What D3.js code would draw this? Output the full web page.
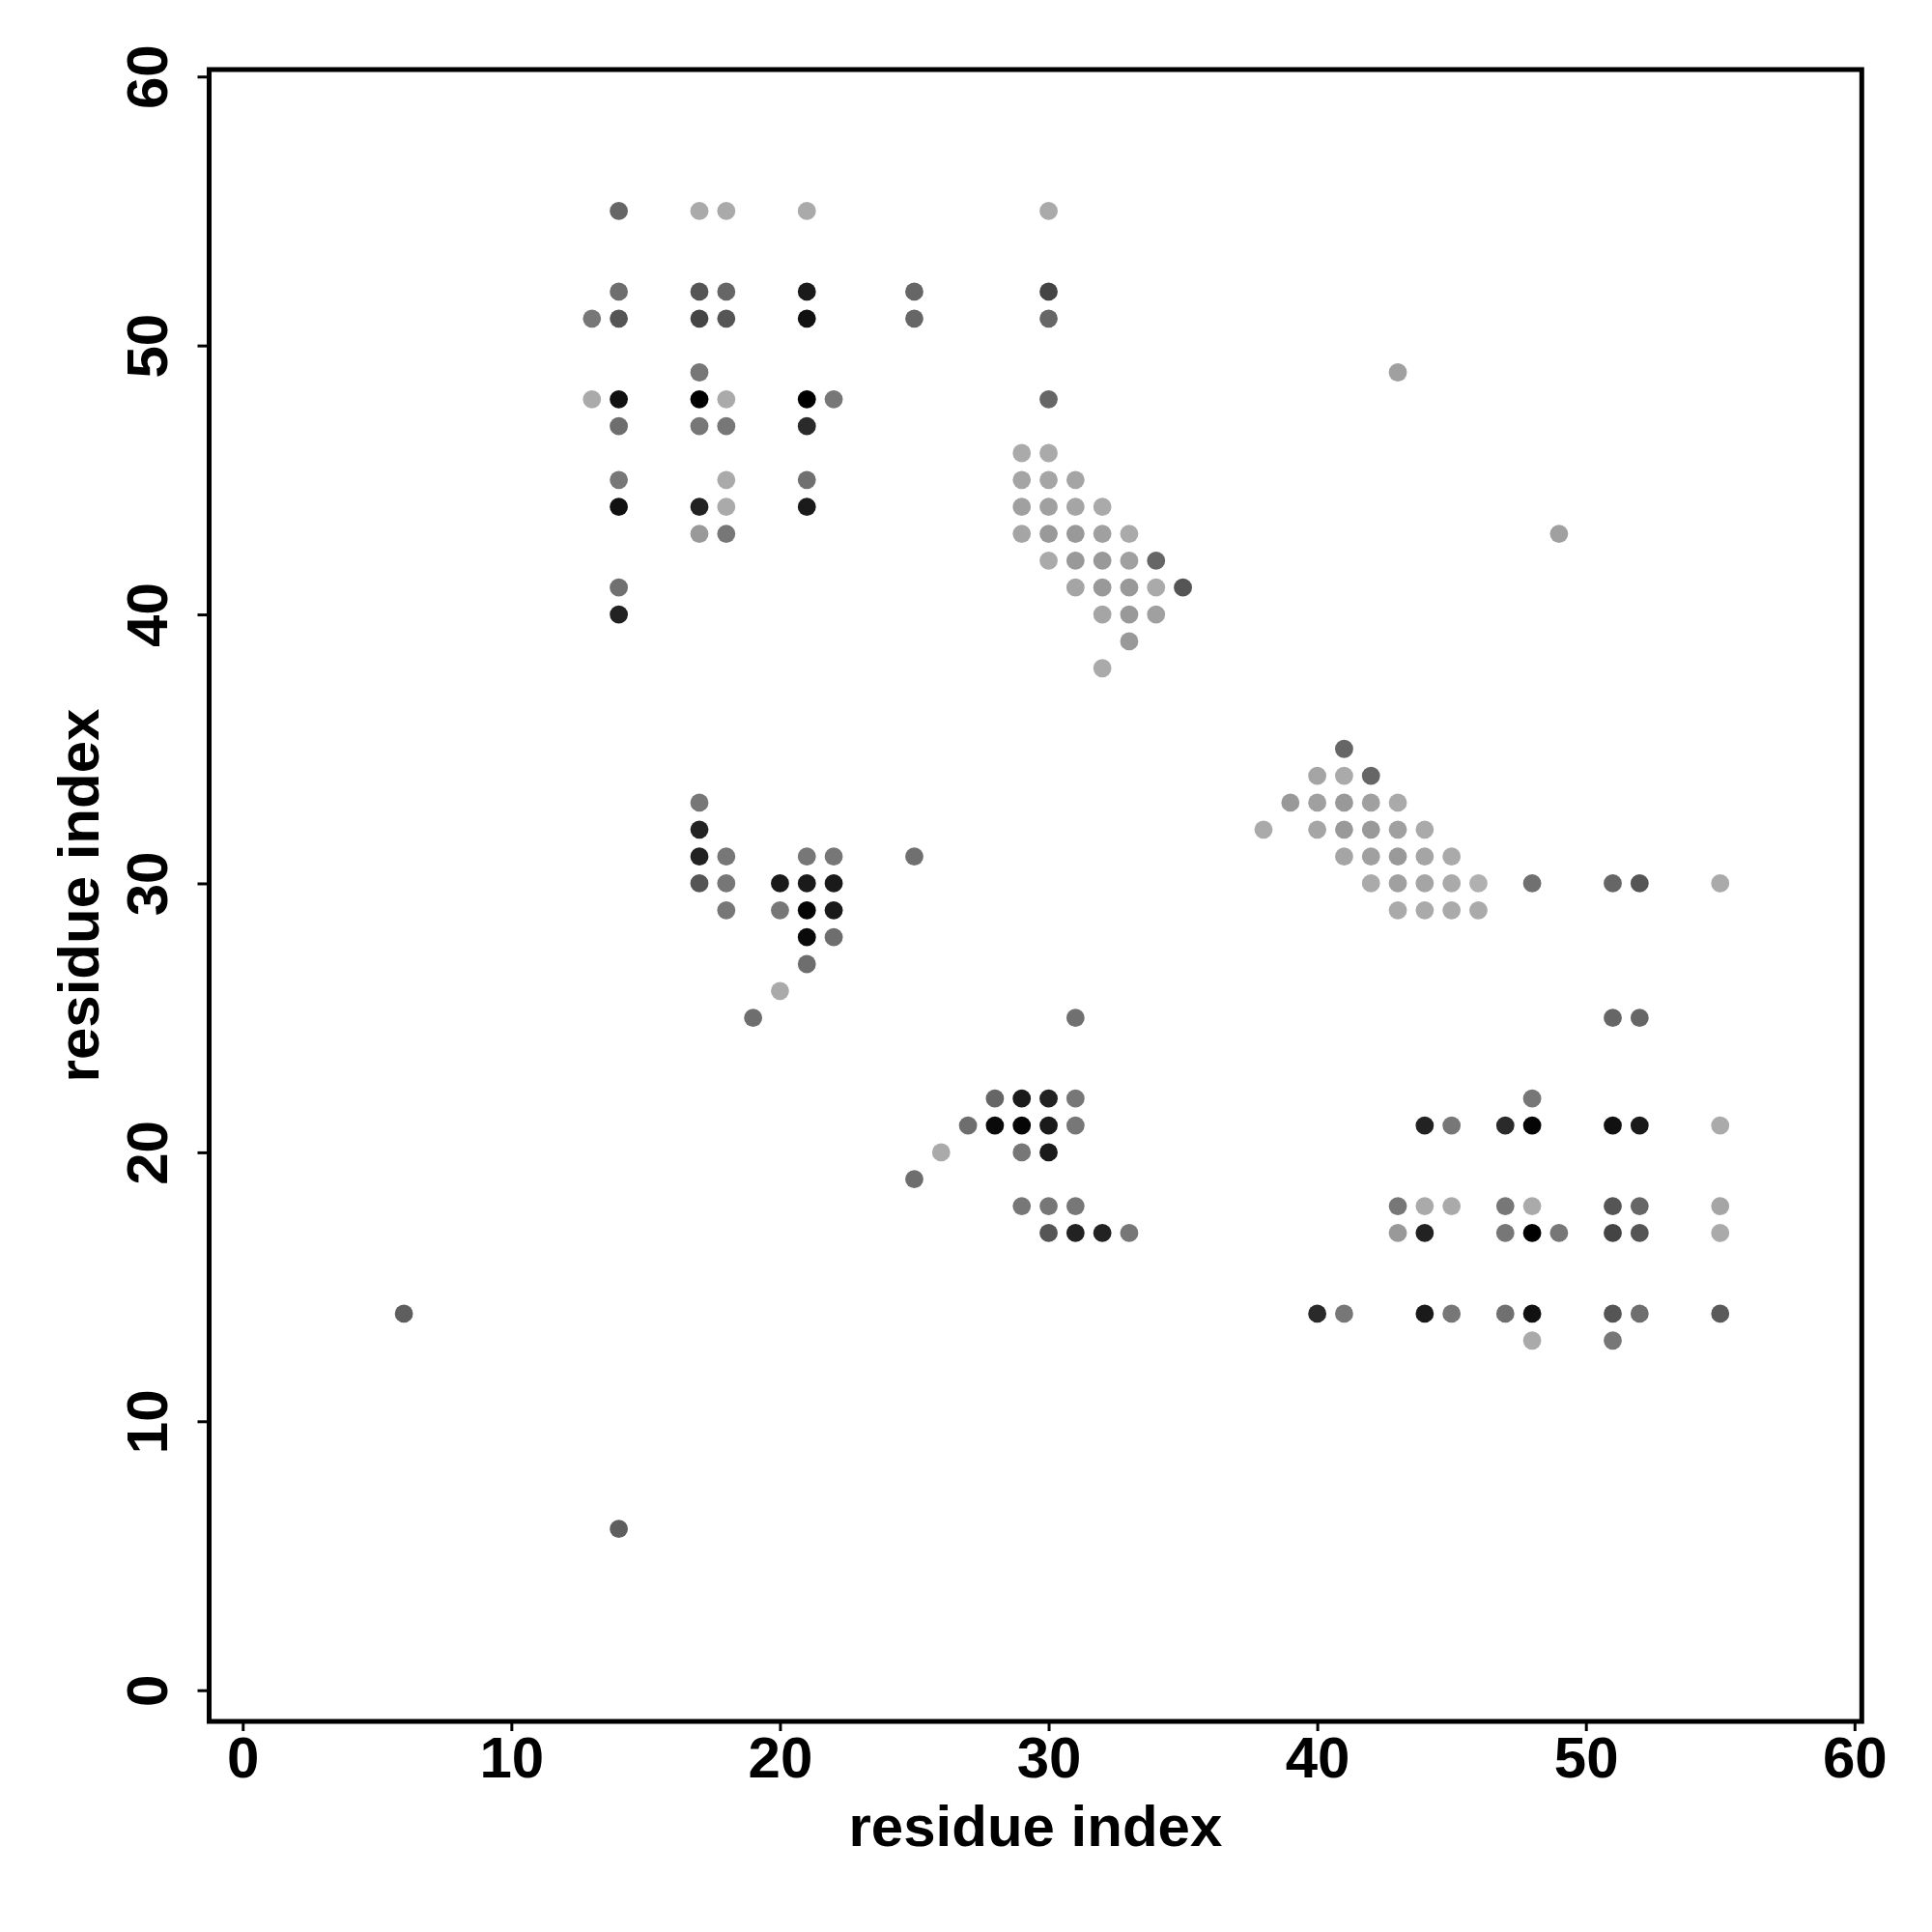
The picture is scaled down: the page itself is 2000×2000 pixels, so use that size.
<!DOCTYPE html>
<html>
<head>
<meta charset="utf-8">
<script src="https://cdn.jsdelivr.net/npm/d3@7"></script>
<style>
  html, body { margin: 0; padding: 0; background: #fff; }
  svg { display: block; }
  text { font-family: "Liberation Sans", Arial, Helvetica, sans-serif; font-weight: bold; fill: #000; }
</style>
</head>
<body>
<svg id="chart" width="2000" height="2000"></svg>
<script>
// ---- data: residue pairs (i, j) and grey level of each contact dot (0 = black, 255 = white)
const resI = [
  14,17,18,21,14,17,18,21,13,14,17,18,21,17,13,14,17,18,21,22,14,17,18,21,14,18,21,14,17,18,21,17,18,14,14,
  30,25,30,25,30,30,29,30,29,30,31,29,30,31,32,29,30,31,32,33,30,31,32,33,34,31,32,33,34,35,32,33,34,33,32,
  17,17,17,18,21,22,25,17,18,20,21,22,18,20,21,22,21,22,21,20,19,
  41,40,41,42,39,40,41,42,43,38,40,41,42,43,44,41,42,43,44,45,42,43,44,45,46,48,51,52,55,43,44,45,46,
  31,28,29,30,31,27,28,29,30,31,26,29,30,25,29,30,31,30,31,32,33,
  48,44,45,47,48,51,52,55,43,44,45,47,48,51,52,55,43,44,47,48,49,51,52,55,40,41,44,45,47,48,51,52,55,48,51,51,52,
  6,14,43,49
];
const resJ = [
  55,55,55,55,52,52,52,52,51,51,51,51,51,49,48,48,48,48,48,48,47,47,47,47,45,45,45,44,44,44,44,43,43,41,40,
  55,52,52,51,51,48,46,46,45,45,45,44,44,44,44,43,43,43,43,43,42,42,42,42,42,41,41,41,41,41,40,40,40,39,38,
  33,32,31,31,31,31,31,30,30,30,30,30,29,29,29,29,28,28,27,26,25,
  35,34,34,34,33,33,33,33,33,32,32,32,32,32,32,31,31,31,31,31,30,30,30,30,30,30,30,30,30,29,29,29,29,
  25,22,22,22,22,21,21,21,21,21,20,20,20,19,18,18,18,17,17,17,17,
  22,21,21,21,21,21,21,21,18,18,18,18,18,18,18,18,17,17,17,17,17,17,17,17,14,14,14,14,14,14,14,14,14,13,13,25,25,
  14,6,49,43
];
const grey = [
  102,170,170,170,110,85,102,26,119,85,68,85,17,119,170,17,0,170,0,119,110,119,119,42,119,170,112,17,34,170,26,153,119,112,34,
  170,102,68,102,102,102,170,170,165,165,165,160,160,165,170,165,153,153,160,170,170,153,153,160,102,165,153,153,170,85,165,153,160,153,170,
  119,34,34,119,119,119,112,85,119,26,26,26,119,119,5,26,10,110,110,170,110,
  102,165,170,102,153,160,153,160,170,170,165,153,153,160,170,165,160,153,165,170,170,160,165,170,176,112,102,85,170,170,170,170,170,
  112,102,26,34,119,110,10,5,26,119,170,119,26,110,119,119,119,85,34,34,119,
  119,34,119,42,5,17,26,170,119,170,170,119,170,85,102,165,153,34,119,0,119,68,85,170,42,119,26,119,112,17,85,110,90,170,119,102,102,
  94,94,160,160
];
const tickValues = [0, 10, 20, 30, 40, 50, 60];
const axisTitle = "residue index";

// ---- layout
const W = 2000, H = 2000;
const plot = { left: 216.5, right: 1927.3, top: 72, bottom: 1782 };

const svg = d3.select("#chart");
svg.append("rect").attr("width", W).attr("height", H).attr("fill", "#fff");

const x = d3.scaleLinear().domain([-1.25, 60.27]).range([plot.left, plot.right]);
const y = d3.scaleLinear().domain([-1.16, 60.26]).range([plot.bottom, plot.top]);

const points = resI.map((v, k) => ({ i: v, j: resJ[k], g: grey[k] }));

// ---- dots
svg.append("g")
  .selectAll("circle")
  .data(points)
  .join("circle")
  .attr("cx", d => x(d.i))
  .attr("cy", d => y(d.j))
  .attr("r", 9.4)
  .attr("fill", d => d3.rgb(d.g, d.g, d.g).formatHex());

// ---- x axis
const xAxis = svg.append("g")
  .attr("transform", `translate(0,${plot.bottom})`)
  .call(d3.axisBottom(x).tickValues(tickValues).tickFormat(d3.format("d")).tickSize(10).tickSizeOuter(0));
xAxis.select(".domain").remove();
xAxis.selectAll(".tick line").attr("stroke", "#000").attr("stroke-width", 3);
xAxis.selectAll(".tick text")
  .attr("y", 58).attr("dy", null)
  .attr("font-size", 60)
  .attr("font-family", "Liberation Sans, Arial, sans-serif")
  .attr("font-weight", "bold")
  .attr("fill", "#000");

// ---- y axis
const yAxis = svg.append("g")
  .attr("transform", `translate(${plot.left},0)`)
  .call(d3.axisLeft(y).tickValues(tickValues).tickFormat(d3.format("d")).tickSize(12).tickSizeOuter(0));
yAxis.select(".domain").remove();
yAxis.selectAll(".tick line").attr("stroke", "#000").attr("stroke-width", 3);
yAxis.selectAll(".tick text")
  .attr("x", null).attr("dy", null)
  .attr("text-anchor", "middle")
  .attr("transform", "translate(-44,0) rotate(-90)")
  .attr("font-size", 60)
  .attr("font-family", "Liberation Sans, Arial, sans-serif")
  .attr("font-weight", "bold")
  .attr("fill", "#000");

// ---- frame
svg.append("rect")
  .attr("x", plot.left).attr("y", plot.top)
  .attr("width", plot.right - plot.left).attr("height", plot.bottom - plot.top)
  .attr("fill", "none").attr("stroke", "#000").attr("stroke-width", 5);

// ---- axis titles
svg.append("text")
  .attr("x", (plot.left + plot.right) / 2).attr("y", 1911)
  .attr("text-anchor", "middle").attr("font-size", 60)
  .text(axisTitle);
svg.append("text")
  .attr("transform", `translate(102,${(plot.top + plot.bottom) / 2}) rotate(-90)`)
  .attr("text-anchor", "middle").attr("font-size", 60)
  .text(axisTitle);
</script>
</body>
</html>
